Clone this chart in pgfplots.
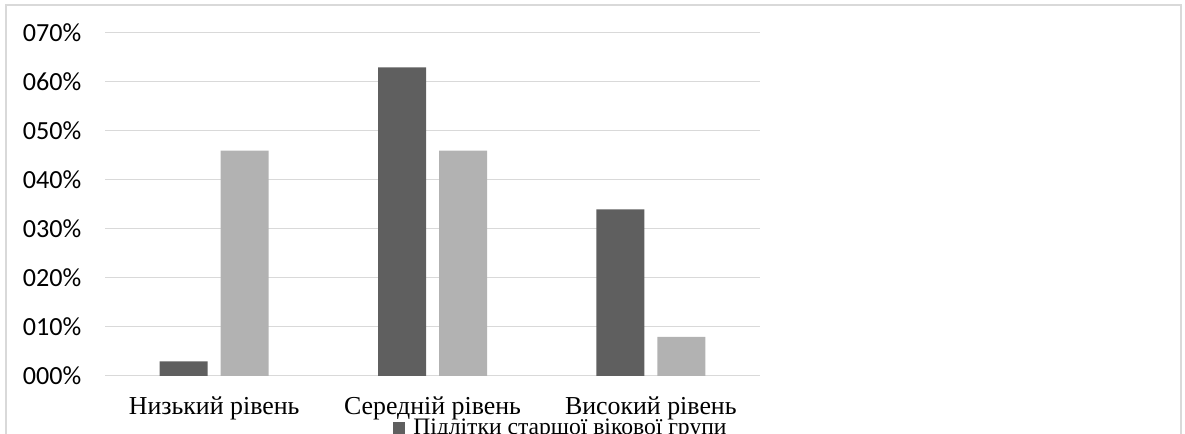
\documentclass[border=0pt]{standalone}
\usepackage{fontspec}
\setmainfont{Liberation Serif}
\newfontfamily\calibri{Carlito}
\usepackage{pgfplots}
\pgfplotsset{compat=1.18}
\definecolor{darkbar}{HTML}{5F5F5F}
\definecolor{lightbar}{HTML}{B2B2B2}
\definecolor{gridgray}{HTML}{D9D9D9}
\begin{document}
\begin{tikzpicture}
% image is 1185x434 px, 1px = 0.75pt
\path[use as bounding box, clip] (0,0) rectangle (888.75pt,325.5pt);
\draw[gridgray, line width=1pt] (4.5pt,-20pt) -- (4.5pt,321.75pt) -- (885.75pt,321.75pt) -- (885.75pt,-20pt);
\begin{axis}[
    at={(78.75pt,43.5pt)}, anchor=south west,
    scale only axis,
    width=491.25pt, height=257.25pt,
    ybar=9.75pt, bar width=36pt,
    xmin=-0.5, xmax=2.5,
    ymin=0, ymax=70,
    xtick={0,1,2},
    xticklabels={Низький рівень, Середній рівень, Високий рівень},
    ytick={0,10,20,30,40,50,60,70},
    yticklabels={000\%,010\%,020\%,030\%,040\%,050\%,060\%,070\%},
    yticklabel style={font=\calibri\fontsize{19.6}{21}\selectfont, inner sep=0pt, anchor=east, xshift=-17.5pt},
    xticklabel style={font=\fontsize{19.4}{21}\selectfont, inner sep=0pt, anchor=base, yshift=-29.25pt},
    major tick length=0pt,
    axis line style={draw=none},
    ymajorgrids, grid style={gridgray, line width=0.75pt},
    legend style={at={(0.4397,-0.1516)}, anchor=west, draw=none, fill=none,
        font=\fontsize{17.7}{19}\selectfont, inner sep=0pt,
        nodes={inner sep=0pt}, column sep=6pt},
    legend image code/.code={\fill[#1] (0pt,-4.5pt) rectangle (9pt,4.5pt);},
]
\addplot[fill=darkbar, draw=none] coordinates {(0,3) (1,63) (2,34)};
\addplot[fill=lightbar, draw=none] coordinates {(0,46) (1,46) (2,8)};
\legend{Підлітки старшої вікової групи}
\end{axis}
\end{tikzpicture}
\end{document}
